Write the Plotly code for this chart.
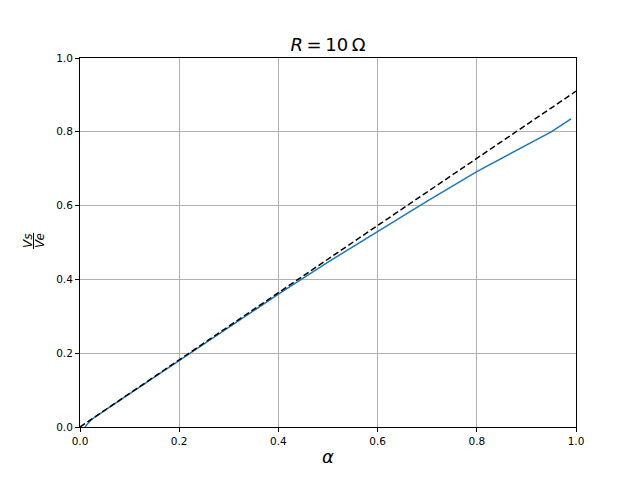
import plotly.graph_objects as go

# data
alpha = [0.01, 0.022, 0.05, 0.1, 0.2, 0.3, 0.4, 0.5, 0.6, 0.7, 0.8, 0.9, 0.95, 0.99]
vs_ve = [0.0, 0.019, 0.045, 0.09, 0.18, 0.27, 0.36, 0.447, 0.53, 0.612, 0.692, 0.764, 0.80, 0.835]

ideal_x = [0.0, 1.0]
ideal_y = [0.0, 0.91]

ticks = [0.0, 0.2, 0.4, 0.6, 0.8, 1.0]
tick_text = ['0.0', '0.2', '0.4', '0.6', '0.8', '1.0']

fig = go.Figure()
fig.add_trace(go.Scatter(x=alpha, y=vs_ve, mode='lines',
                         line=dict(color='#1f77b4', width=1.5), showlegend=False))
fig.add_trace(go.Scatter(x=ideal_x, y=ideal_y, mode='lines',
                         line=dict(color='black', width=1.5, dash='6px,3px'), showlegend=False))

axis = dict(range=[0, 1], tickvals=ticks, ticktext=tick_text, showgrid=True,
            gridcolor='#b0b0b0', gridwidth=0.8, showline=True, linecolor='black',
            linewidth=1, mirror=True, ticks='outside', ticklen=4, tickcolor='black',
            zeroline=False, tickfont=dict(size=10.5, color='black'))

# page body has an 8px margin, so the margins are shifted by 8px
fig.update_layout(
    width=640, height=480,
    margin=dict(l=72, r=72, t=50, b=61),
    paper_bgcolor='white', plot_bgcolor='white',
    font=dict(family='DejaVu Sans', color='black'),
    title=dict(text='<i>R</i>\u2009=\u200910\u2009Ω', x=(328 - 8) / 640, xanchor='center',
               y=1 - 37 / 480, yanchor='middle', font=dict(size=18)),
    xaxis=dict(axis, title=dict(text='<i>α</i>', font=dict(size=18), standoff=4)),
    yaxis=dict(axis),
)

# y label drawn as a stacked fraction Vs / Ve
fig.add_annotation(text='<i>Vs</i>', xref='paper', yref='paper', x=-52 / 496, y=0.504,
                   xanchor='center', yanchor='middle',
                   textangle=-90, showarrow=False, font=dict(size=12))
fig.add_annotation(text='<i>Ve</i>', xref='paper', yref='paper', x=-40 / 496, y=0.504,
                   xanchor='center', yanchor='middle',
                   textangle=-90, showarrow=False, font=dict(size=12))
fig.add_shape(type='line', xref='paper', yref='paper', x0=-46.5 / 496, x1=-46.5 / 496,
              y0=0.482, y1=0.526, line=dict(color='black', width=1))

fig.write_html("out.html")
